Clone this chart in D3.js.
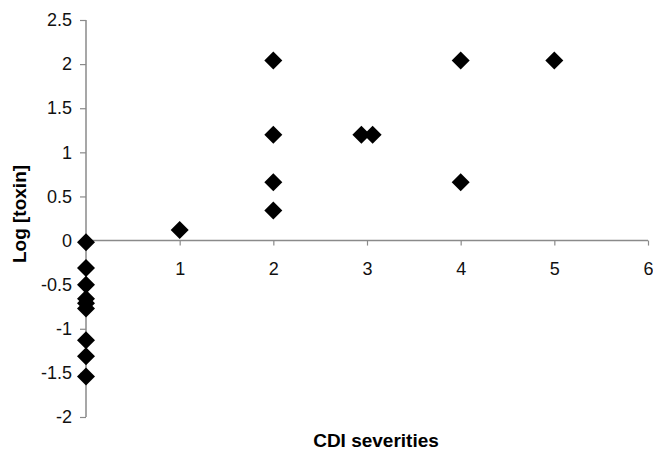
<!DOCTYPE html>
<html><head><meta charset="utf-8">
<script src="https://cdn.jsdelivr.net/npm/d3@7"></script>
<style>body{margin:0;background:#fff}svg{display:block}text{font-family:"Liberation Sans",Arial,sans-serif}</style>
</head><body>
<svg id="c" width="653" height="451"></svg>
<script>
const severity = [0,0,0,0,0,0,0,0,0, 1, 2,2,2,2, 2.94,3.06, 4,4, 5];
const logToxin = [-0.02,-0.31,-0.5,-0.66,-0.71,-0.77,-1.13,-1.31,-1.54, 0.12, 2.04,1.2,0.66,0.34, 1.2,1.2, 2.04,0.66, 2.04];
const xTicks = [1,2,3,4,5,6];
const yTicks = [-2,-1.5,-1,-0.5,0,0.5,1,1.5,2,2.5];
const xTitle = "CDI severities", yTitle = "Log [toxin]";

const svg = d3.select("#c");
const x = d3.scaleLinear().domain([0,6]).range([86,648]);
const y = d3.scaleLinear().domain([-2,2.5]).range([417,20]);
const axisColor = "#8a8a8a";

const gx = svg.append("g").attr("transform",`translate(0,${y(0)})`)
  .call(d3.axisBottom(x).tickValues(xTicks).tickSize(5).tickPadding(17).tickFormat(d3.format("d")));
const gy = svg.append("g").attr("transform",`translate(${x(0)},0)`)
  .call(d3.axisLeft(y).tickValues(yTicks).tickSize(6).tickPadding(8).tickFormat(d=>String(d)));
[gx,gy].forEach(g=>{
  g.select(".domain").attr("stroke",axisColor).attr("stroke-width",1.5);
  g.selectAll(".tick line").attr("stroke",axisColor).attr("stroke-width",1.2);
  g.selectAll(".tick text").attr("fill","#111").style("font-size","18px").style("font-family","'Liberation Sans',Arial,sans-serif");
});
gy.select(".domain").attr("d",`M0,${y(-2)}V${y(2.5)}`);
gx.select(".domain").attr("d",`M${x(0)},0H${x(6)}`);

const pts = severity.map((s,i)=>({s, v:logToxin[i]}));
svg.append("g").selectAll("path").data(pts).join("path")
  .attr("transform",d=>`translate(${x(d.s)},${y(d.v)})`)
  .attr("d","M0,-9L9,0L0,9L-9,0Z").attr("fill","#000");

svg.append("text").attr("x",376).attr("y",447).attr("text-anchor","middle")
  .style("font-size","19px").style("font-weight","bold").text(xTitle);
svg.append("text").attr("transform",`translate(26,214) rotate(-90)`).attr("text-anchor","middle")
  .style("font-size","19px").style("font-weight","bold").text(yTitle);
</script>
</body></html>
